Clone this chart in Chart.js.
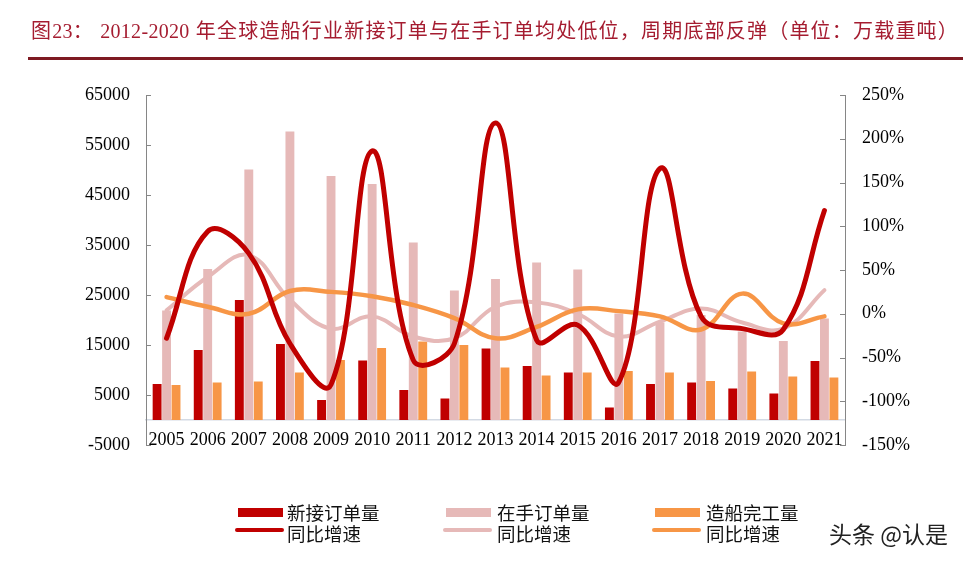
<!DOCTYPE html>
<html>
<head>
<meta charset="utf-8">
<script src="https://cdn.jsdelivr.net/npm/chart.js@4/dist/chart.umd.min.js"></script>
<style>
  html, body { margin: 0; padding: 0; background: #fff; }
  #wrap { position: relative; width: 977px; height: 561px; overflow: hidden; }
  #c { position: absolute; left: 0; top: 0; }
  #title { position: absolute; left: 31px; top: 19px; white-space: nowrap;
    font-family: "Liberation Serif", "Noto Sans CJK SC", serif; font-size: 20px; letter-spacing: 1.2px;
    color: #A51C30; line-height: 24px; }
  #title .d { letter-spacing: 0.3px; }
  #rule { position: absolute; left: 28px; top: 57px; width: 935px; height: 3px; background: #7E1A22; }
  .lg { position: absolute; font-family: "Noto Sans CJK SC", sans-serif; font-size: 18.5px; color: #111; line-height: 20px; white-space: nowrap; }
  .sw { position: absolute; }
  #wm { position: absolute; left: 829px; top: 519px; font-family: "Noto Sans CJK SC", sans-serif; font-size: 23px; color: #222; white-space: nowrap; line-height: 28px; }
</style>
</head>
<body>
<div id="wrap">
  <canvas id="c" width="977" height="561"></canvas>
  <div id="title">图<span class="d">23</span>：&nbsp;<span class="d">2012-2020</span> 年全球造船行业新接订单与在手订单均处低位，周期底部反弹（单位：万载重吨）</div>
  <div id="rule"></div>
  <div id="legend"></div>
  <div id="wm">头条 @认是</div>
</div>
<script>
const years = ['2005','2006','2007','2008','2009','2010','2011','2012','2013','2014','2015','2016','2017','2018','2019','2020','2021'];
const newOrders   = [7200,14000,24000,15200,4000,11900,6000,4300,14300,10800,9500,2500,7200,7500,6300,5300,11800];
const backlog     = [21900,30200,50100,57700,48800,47200,35500,25900,28200,31500,30100,21300,19500,21000,17700,15800,20300];
const completions = [7000,7500,7700,9500,12000,14400,15700,15000,10500,8900,9500,9800,9500,7800,9700,8700,8500];
const newOrdersYoY   = [-28,94,69,-34,-81,186,-53,-34,218,-30,-13,-78,166,-3,-17,-18,118];
const backlogYoY     = [4,42,67,16,-17,-3,-26,-28,8,13,0,-26,-9,6,-10,-17,27];
const completionsYoY = [19,8,0,26,25,20,10,-5,-28,-15,5,3,-3,-18,23,-11,-3];
const leftTicks = [-5000, 65000, 10000];
const rightTicks = [-150, 250, 50];
const barNames = ['新接订单量','在手订单量','造船完工量'];
const lineName = '同比增速';

const RED = '#C00000', PINK = '#E6B9B8', ORANGE = '#F79646';

const innerTicks = {
  id: 'innerTicks',
  afterDraw(chart) {
    const ctx = chart.ctx;
    ctx.save();
    ctx.strokeStyle = '#868686';
    ctx.lineWidth = 1;
    ['y','y1'].forEach(id => {
      const s = chart.scales[id];
      const x0 = id === 'y' ? s.right : s.left;
      const dir = id === 'y' ? 1 : -1;
      s.ticks.forEach(t => {
        const py = Math.round(s.getPixelForValue(t.value)) + 0.5;
        ctx.beginPath();
        ctx.moveTo(x0, py);
        ctx.lineTo(x0 + dir * 5, py);
        ctx.stroke();
      });
    });
    ctx.restore();
  }
};

const serif = { family: '"Liberation Serif", "Times New Roman", serif', size: 18 };

const chart = new Chart(document.getElementById('c'), {
  data: {
    labels: years,
    datasets: [
      { type: 'line', label: lineName, data: newOrdersYoY, yAxisID: 'y1', borderColor: RED, borderWidth: 5, pointRadius: 0, tension: 0.4, order: 1, borderCapStyle: 'round' },
      { type: 'line', label: lineName, data: completionsYoY, yAxisID: 'y1', borderColor: ORANGE, borderWidth: 4.5, pointRadius: 0, tension: 0.4, order: 2, borderCapStyle: 'round' },
      { type: 'line', label: lineName, data: backlogYoY, yAxisID: 'y1', borderColor: PINK, borderWidth: 4, pointRadius: 0, tension: 0.4, order: 3, borderCapStyle: 'round' },
      { type: 'bar', label: barNames[0], data: newOrders, yAxisID: 'y', backgroundColor: RED, order: 4, barPercentage: 0.94, categoryPercentage: 0.69 },
      { type: 'bar', label: barNames[1], data: backlog, yAxisID: 'y', backgroundColor: PINK, order: 5, barPercentage: 0.94, categoryPercentage: 0.69 },
      { type: 'bar', label: barNames[2], data: completions, yAxisID: 'y', backgroundColor: ORANGE, order: 6, barPercentage: 0.94, categoryPercentage: 0.69 }
    ]
  },
  options: {
    responsive: false,
    animation: false,
    layout: { padding: { top: 95, bottom: 116, left: 0, right: 0 } },
    plugins: { legend: { display: false }, tooltip: { enabled: false }, title: { display: false } },
    scales: {
      x: {
        position: { y: 0 },
        grid: { display: false, drawTicks: false },
        border: { display: true, color: '#D3DAE4', width: 1.5 },
        ticks: { font: serif, color: '#000', padding: 9, maxRotation: 0, autoSkip: false }
      },
      y: {
        position: 'left',
        min: leftTicks[0], max: leftTicks[1],
        ticks: { stepSize: leftTicks[2], font: serif, color: '#000', padding: 16, callback: v => String(v) },
        grid: { display: true, drawOnChartArea: false, drawTicks: false },
        border: { display: true, color: '#868686', width: 1 },
        afterFit(s) { s.width = 146; }
      },
      y1: {
        position: 'right',
        min: rightTicks[0], max: rightTicks[1],
        ticks: { stepSize: rightTicks[2], font: serif, color: '#000', padding: 17, callback: v => v + '%' },
        grid: { display: true, drawOnChartArea: false, drawTicks: false },
        border: { display: true, color: '#868686', width: 1 },
        afterFit(s) { s.width = 132; }
      }
    }
  },
  plugins: [innerTicks]
});

// HTML legend built from dataset styles
const legend = document.getElementById('legend');
const cols = [
  { bar: 3, line: 0, sx: 238, tx: 287 },
  { bar: 4, line: 2, sx: 446, tx: 497 },
  { bar: 5, line: 1, sx: 655, tx: 706 }
];
cols.forEach(c => {
  const b = chart.data.datasets[c.bar], l = chart.data.datasets[c.line];
  const s1 = document.createElement('div'); s1.className = 'sw';
  Object.assign(s1.style, { left: c.sx + 'px', top: '508px', width: '45px', height: '9px', background: b.backgroundColor });
  const t1 = document.createElement('div'); t1.className = 'lg'; t1.textContent = b.label;
  Object.assign(t1.style, { left: c.tx + 'px', top: '502px' });
  const s2 = document.createElement('div'); s2.className = 'sw';
  Object.assign(s2.style, { left: (c.sx - 3) + 'px', top: '528px', width: '49px', height: '4px', background: l.borderColor, borderRadius: '2px' });
  const t2 = document.createElement('div'); t2.className = 'lg'; t2.textContent = l.label;
  Object.assign(t2.style, { left: c.tx + 'px', top: '523px' });
  [s1, t1, s2, t2].forEach(e => legend.appendChild(e));
});
</script>
</body>
</html>
